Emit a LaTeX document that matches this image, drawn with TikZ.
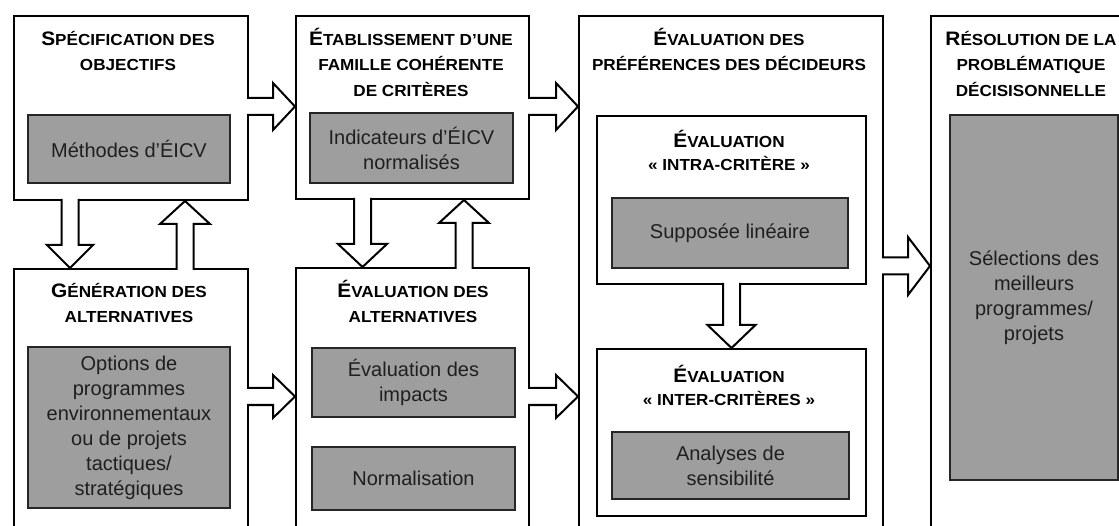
\documentclass[tikz,border=0pt]{standalone}
\usepackage{fontspec}
\setmainfont{Liberation Sans}
\newfontfamily\titlefont[FakeStretch=1.07]{Liberation Sans}
\usetikzlibrary{calc}

% large initial letter of a heading
\newcommand\ini[1]{{\fontsize{19.5}{20}\selectfont #1}}
% strut fixing the first baseline of a heading
\newcommand\hstrut{\rule{0pt}{20pt}}

% block arrows: #1 source node, #2 target node, #3 position (px), #4 half width of the head
\newcommand\rarrow[4]{%
  \path let \p1=(#1.east |- 0,#3), \p2=(#2.west |- 0,#3) in
    [blockarrow] (\x1-2,\y1+8.5) -- (\x2-22,\y1+8.5) -- (\x2-22,\y1+#4) -- (\x2,\y1)
    -- (\x2-22,\y1-#4) -- (\x2-22,\y1-8.5) -- (\x1-2,\y1-8.5);}
\newcommand\darrow[4]{%
  \path let \p1=(#1.south -| #3,0), \p2=(#2.north -| #3,0) in
    [blockarrow] (\x1-8.5,\y1+2) -- (\x1-8.5,\y2+23) -- (\x1-#4,\y2+23) -- (\x1,\y2)
    -- (\x1+#4,\y2+23) -- (\x1+8.5,\y2+23) -- (\x1+8.5,\y1+2);}
\newcommand\uarrow[4]{%
  \path let \p1=(#1.north -| #3,0), \p2=(#2.south -| #3,0) in
    [blockarrow] (\x1-8.5,\y1-2) -- (\x1-8.5,\y2-23) -- (\x1-#4,\y2-23) -- (\x1,\y2)
    -- (\x1+#4,\y2-23) -- (\x1+8.5,\y2-23) -- (\x1+8.5,\y1-2);}

\tikzset{
  stage/.style={draw, line width=2pt, fill=white, anchor=north west, inner sep=0pt},
  greybox/.style={draw=black!85, line width=1.2pt, fill=black!38, text=black!88,
    font=\fontsize{20}{25}\selectfont, align=center, inner sep=0pt},
  heading/.style={font=\titlefont\bfseries\fontsize{16}{25.5}\selectfont,
    align=center, anchor=north, inner sep=0pt},
  subheading/.style={heading, font=\titlefont\bfseries\fontsize{16}{23}\selectfont},
  blockarrow/.style={draw, line width=2pt, fill=white, line join=miter},
}

\begin{document}
\begin{tikzpicture}[x=1pt, y=-1pt]
\useasboundingbox (0,0) rectangle (1119,526);
\clip (0,0) rectangle (1119,526);

% stages
\node[stage, minimum width=234, minimum height=184] (b1) at (13,15) {};
\node[stage, minimum width=234, minimum height=275] (b2) at (13,268) {};
\node[stage, minimum width=233, minimum height=183] (b3) at (295,15) {};
\node[stage, minimum width=233, minimum height=275] (b4) at (295,267) {};
\node[stage, minimum width=304, minimum height=530] (b5) at (578,15) {};
\node[stage, minimum width=269, minimum height=168] (ia) at (596,115) {};
\node[stage, minimum width=269, minimum height=167] (ib) at (596,348) {};
\node[stage, minimum width=215, minimum height=530] (b6) at (930,15) {};

% headings
\node[heading] (t1) at (128,25) {\hstrut\ini{S}PÉCIFICATION DES\\OBJECTIFS};
\node[heading] (t2) at (129,277) {\hstrut\ini{G}ÉNÉRATION DES\\ALTERNATIVES};
\node[heading] (t3) at (411,25) {\hstrut\ini{É}TABLISSEMENT D’UNE\\FAMILLE COHÉRENTE\\DE CRITÈRES};
\node[heading] (t4) at (413,277) {\hstrut\ini{É}VALUATION DES\\ALTERNATIVES};
\node[heading] (t5) at (729,25) {\hstrut\ini{É}VALUATION DES\\PRÉFÉRENCES DES DÉCIDEURS};
\node[subheading] (ta) at (729,127) {\hstrut\ini{É}VALUATION\\« INTRA-CRITÈRE »};
\node[subheading] (tb) at (729,362) {\hstrut\ini{É}VALUATION\\« INTER-CRITÈRES »};
\node[heading] (t6) at (1031,25) {\hstrut\ini{R}ÉSOLUTION DE LA\\PROBLÉMATIQUE\\DÉCISISONNELLE};

% methods and tools
\node[greybox, minimum width=202, minimum height=68] (g1) at (129,149) {Méthodes d’ÉICV};
\node[greybox, minimum width=202, minimum height=161] (g2) at (129,427.5)
  {Options de\\programmes\\environnementaux\\ou de projets\\tactiques/\\stratégiques};
\node[greybox, minimum width=203, minimum height=70] (g3) at (411.5,148)
  {Indicateurs d’ÉICV\\normalisés};
\node[greybox, minimum width=203, minimum height=69] (g4a) at (413.5,382.5)
  {Évaluation des\\impacts};
\node[greybox, minimum width=203, minimum height=63] (g4b) at (413.5,478.5) {Normalisation};
\node[greybox, minimum width=236, minimum height=70] (ga) at (730,233) {Supposée linéaire};
\node[greybox, minimum width=237, minimum height=67] (gb) at (730.5,465.5)
  {Analyses de\\sensibilité};
\node[greybox, minimum width=168, minimum height=365] (g6) at (1034,297.5)
  {Sélections des\\meilleurs\\programmes/\\projets};

% flows between stages
\rarrow{b1}{b3}{106.5}{23.5}
\rarrow{b2}{b4}{396.5}{21.5}
\rarrow{b3}{b5}{106.5}{23.5}
\rarrow{b4}{b5}{396.5}{21.5}
\rarrow{b5}{b6}{266}{29}
\darrow{b1}{b2}{70}{23}
\uarrow{b2}{b1}{185}{25}
\darrow{b3}{b4}{362.5}{24.5}
\uarrow{b4}{b3}{464}{25}
\darrow{ia}{ib}{731.5}{24}
\end{tikzpicture}
\end{document}
